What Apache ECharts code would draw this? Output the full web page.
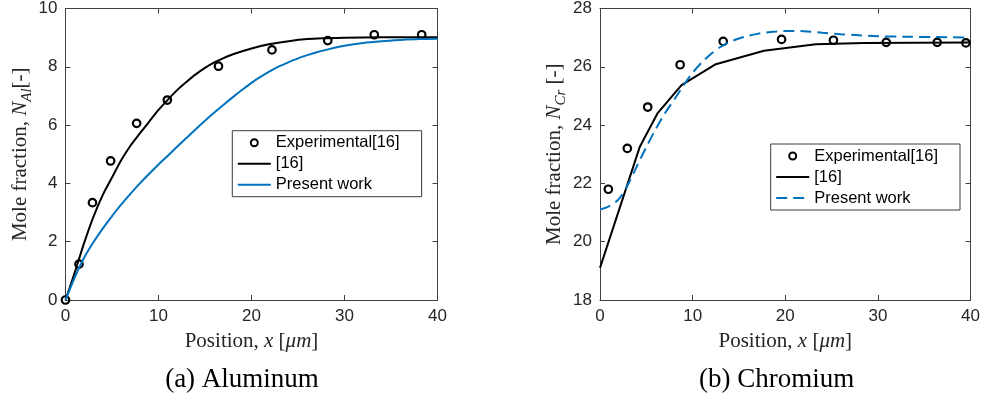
<!DOCTYPE html>
<html>
<head>
<meta charset="utf-8">
<script src="https://cdn.jsdelivr.net/npm/echarts@6/dist/echarts.min.js"></script>
<style>
html,body{margin:0;padding:0;background:#fff;}
#c{width:983px;height:400px;}
</style>
</head>
<body>
<div id="c"></div>
<script>
// ---------- data ----------
const xTicks = [0, 10, 20, 30, 40];

// (a) Aluminum
const alExpX = [0, 1.45, 2.9, 4.85, 7.65, 10.95, 16.45, 22.2, 28.2, 33.2, 38.3];
const alExpY = [0, 1.23, 3.34, 4.77, 6.06, 6.86, 8.02, 8.58, 8.9, 9.1, 9.1];

const alRefX = [0, 1, 2, 3, 4, 5, 6, 7, 8, 9, 10, 11, 12, 13, 14, 15, 16, 17, 18, 20, 22, 24, 26, 28, 30, 34, 40];
const alRefY = [0, 0.95, 1.95, 2.85, 3.6, 4.2, 4.8, 5.3, 5.72, 6.12, 6.52, 6.87, 7.2, 7.48, 7.74, 7.96, 8.15, 8.3, 8.43, 8.63, 8.78, 8.88, 8.95, 8.98, 9.0, 9.01, 9.01];

const alPwX = [0, 1, 2, 3, 4, 5, 6, 7, 8, 9, 10, 11, 12, 13, 14, 15, 16, 17, 18, 19, 20, 21, 22, 23, 24, 25, 26, 27, 28, 30, 32, 34, 36, 38, 40];
const alPwY = [0, 0.78, 1.45, 1.98, 2.45, 2.88, 3.28, 3.65, 4.0, 4.33, 4.65, 4.95, 5.26, 5.56, 5.86, 6.15, 6.43, 6.7, 6.96, 7.21, 7.45, 7.66, 7.85, 8.02, 8.16, 8.29, 8.4, 8.5, 8.58, 8.72, 8.82, 8.88, 8.92, 8.95, 8.96];

// (b) Chromium
const crExpX = [0.9, 2.95, 5.15, 8.65, 13.3, 19.6, 25.2, 30.9, 36.4, 39.5];
const crExpY = [21.8, 23.2, 24.62, 26.07, 26.87, 26.94, 26.91, 26.84, 26.84, 26.82];

const crRefX = [0, 4.3, 6.2, 8.8, 12.5, 17.7, 23.3, 28.5, 40];
const crRefY = [19.1, 23.26, 24.4, 25.37, 26.09, 26.55, 26.77, 26.82, 26.83];

const crPwX = [0, 1, 2, 3, 4, 5, 6, 7, 8, 9, 10, 11, 12, 13, 14, 15, 16, 17, 18, 19, 20, 22, 24, 26, 28, 30, 33, 36, 40];
const crPwY = [21.1, 21.22, 21.45, 21.95, 22.6, 23.25, 23.85, 24.4, 24.87, 25.35, 25.8, 26.15, 26.45, 26.68, 26.85, 26.97, 27.06, 27.13, 27.18, 27.21, 27.23, 27.22, 27.17, 27.12, 27.08, 27.05, 27.03, 27.02, 27.0];

const legendNames = ['Experimental[16]', '[16]', 'Present work'];

// ---------- helpers ----------
const zip = (xs, ys) => xs.map((x, i) => [x, ys[i]]);
const AXC = '#404040';
const TICKC = '#262626';
const SANS = '"Liberation Sans", Arial, sans-serif';
const SERIF = '"Liberation Serif", "Times New Roman", serif';
const BLUE = '#0072BD';

function xAxes(grid, name) {
  const base = {
    gridIndex: grid, type: 'value', min: xTicks[0], max: xTicks[xTicks.length - 1], interval: 10,
    axisLine: {onZero: false, lineStyle: {color: AXC, width: 1}},
    axisTick: {inside: true, length: 5, lineStyle: {color: AXC, width: 1}},
    splitLine: {show: false}
  };
  return [
    Object.assign({}, base, {
      position: 'bottom',
      axisLabel: {margin: 8, fontSize: 17, fontFamily: SANS, color: TICKC},
      name: name, nameLocation: 'middle', nameGap: 31,
      nameTextStyle: {
        fontFamily: SERIF, fontSize: 21, color: TICKC,
        rich: {
          r: {fontFamily: SERIF, fontSize: 21, color: TICKC},
          i: {fontFamily: SERIF, fontSize: 21, fontStyle: 'italic', color: TICKC}
        }
      }
    }),
    Object.assign({}, base, {position: 'top', axisLabel: {show: false}})
  ];
}

function yAxes(grid, min, max, name) {
  const base = {
    gridIndex: grid, type: 'value', min: min, max: max, interval: 2,
    axisLine: {onZero: false, lineStyle: {color: AXC, width: 1}},
    axisTick: {inside: true, length: 5, lineStyle: {color: AXC, width: 1}},
    splitLine: {show: false}
  };
  return [
    Object.assign({}, base, {
      position: 'left',
      axisLabel: {margin: 8, fontSize: 17, fontFamily: SANS, color: TICKC},
      name: name, nameLocation: 'middle', nameRotate: 90, nameGap: 31,
      nameTextStyle: {
        fontFamily: SERIF, fontSize: 21, color: TICKC,
        rich: {
          r: {fontFamily: SERIF, fontSize: 21, color: TICKC},
          i: {fontFamily: SERIF, fontSize: 21, fontStyle: 'italic', color: TICKC},
          s: {fontFamily: SERIF, fontSize: 15, fontStyle: 'italic', color: TICKC, padding: [14, 0, 0, 0]}
        }
      }
    }),
    Object.assign({}, base, {position: 'right', axisLabel: {show: false}})
  ];
}

function legendAt(left, top, names) {
  return {
    data: [
      {name: names[0]},
      {name: names[1], itemStyle: {opacity: 0}},
      {name: names[2], itemStyle: {opacity: 0}}
    ],
    left: left, top: top, orient: 'vertical', align: 'left',
    itemWidth: 33, itemHeight: 7, itemGap: 4,
    padding: [3.5, 22, 3.5, 4.5],
    backgroundColor: '#fff', borderColor: '#3c3c3c', borderWidth: 1, borderRadius: 0,
    textStyle: {fontFamily: SANS, fontSize: 16.5, color: '#000'},
    formatter: n => n.trim(),
    selectedMode: false
  };
}

const expStyle = {color: 'transparent', borderColor: '#000', borderWidth: 2.2, opacity: 1};

const option = {
  animation: false,
  backgroundColor: '#fff',
  grid: [
    {left: 65.5, top: 8.5, width: 372, height: 291.5},
    {left: 600, top: 8.5, width: 373.3, height: 291.5}
  ],
  xAxis: [].concat(
    xAxes(0, '{r|Position, }{i|x}{r| [}{i|μm}{r|]}'),
    xAxes(1, '{r|Position, }{i|x}{r| [}{i|μm}{r|]}')
  ),
  yAxis: [].concat(
    yAxes(0, 0, 10, '{r|Mole fraction, }{i|N}{s|Al}{r|[-]}'),
    yAxes(1, 18, 28, '{r|Mole fraction, }{i|N}{s|Cr}{r| [-]}')
  ),
  legend: [
    legendAt(232.3, 130.7, legendNames),
    legendAt(770.7, 144, legendNames.map(n => n + ' '))
  ],
  series: [
    {name: '[16]', type: 'line', xAxisIndex: 0, yAxisIndex: 0, data: zip(alRefX, alRefY),
     symbol: 'none', showSymbol: false, smooth: 0.3, color: '#000', lineStyle: {color: '#000', width: 2}},
    {name: 'Present work', type: 'line', xAxisIndex: 0, yAxisIndex: 0, data: zip(alPwX, alPwY),
     symbol: 'none', showSymbol: false, smooth: 0.3, color: BLUE, lineStyle: {color: BLUE, width: 2}},
    {name: 'Experimental[16]', type: 'scatter', xAxisIndex: 0, yAxisIndex: 0, data: zip(alExpX, alExpY),
     symbol: 'circle', symbolSize: 7.5, itemStyle: expStyle, clip: false},

    {name: '[16] ', type: 'line', xAxisIndex: 2, yAxisIndex: 2, data: zip(crRefX, crRefY),
     symbol: 'none', showSymbol: false, color: '#000', lineStyle: {color: '#000', width: 2}},
    {name: 'Present work ', type: 'line', xAxisIndex: 2, yAxisIndex: 2, data: zip(crPwX, crPwY),
     symbol: 'none', showSymbol: false, smooth: 0.3, color: BLUE, lineStyle: {color: BLUE, width: 2, type: [11, 6]}},
    {name: 'Experimental[16] ', type: 'scatter', xAxisIndex: 2, yAxisIndex: 2, data: zip(crExpX, crExpY),
     symbol: 'circle', symbolSize: 7.5, itemStyle: expStyle, clip: false}
  ],
  graphic: [
    {type: 'text', x: 242, y: 380, style: {text: '(a) Aluminum', font: '27px ' + SERIF, fill: '#000', align: 'center', verticalAlign: 'middle'}},
    {type: 'text', x: 776.7, y: 380, style: {text: '(b) Chromium', font: '27px ' + SERIF, fill: '#000', align: 'center', verticalAlign: 'middle'}}
  ]
};

const chart = echarts.init(document.getElementById('c'), null, {renderer: 'canvas'});
chart.setOption(option);
</script>
</body>
</html>
